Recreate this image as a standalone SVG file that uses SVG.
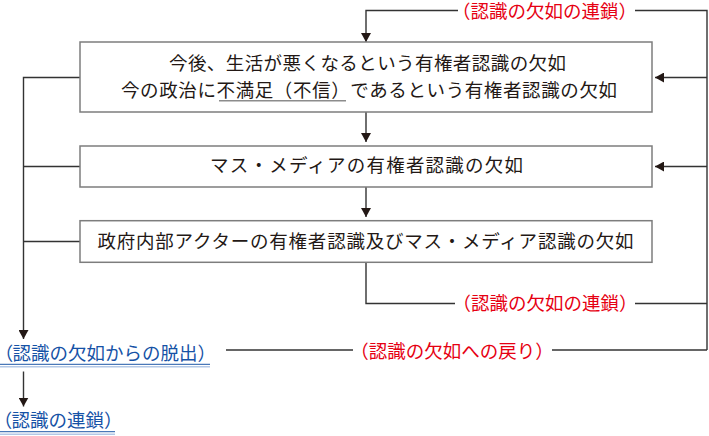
<svg xmlns="http://www.w3.org/2000/svg" width="709" height="436" viewBox="0 0 709 436">
<defs>
<style>
.box{fill:#fff;stroke:#7d7d7d;stroke-width:1.5}
.ln{fill:none;stroke:#333;stroke-width:1.4}
.t{font-family:"Liberation Sans","Noto Sans CJK JP",sans-serif;font-size:18.5px;fill:#231815}
.red{font-family:"Liberation Sans","Noto Sans CJK JP",sans-serif;font-size:18.5px;fill:#e60012}
.blue{font-family:"Liberation Sans","Noto Sans CJK JP",sans-serif;font-size:18.5px;fill:#1652a6}
.p{font-feature-settings:"palt"}
.ul1{stroke:#4a78b8;stroke-width:1.2}
.ul2{stroke:#b3c8e6;stroke-width:1.6}
</style>
<marker id="ah" viewBox="0 0 9 10" refX="9" refY="5" markerWidth="9" markerHeight="10" markerUnits="userSpaceOnUse" orient="auto">
<path d="M0,0 L9,5 L0,10 z" fill="#231815"/>
</marker>
</defs>
<rect width="709" height="436" fill="#fff"/>
<g id="connectors">
<path class="ln" d="M458,10.5 H366 V42" marker-end="url(#ah)"/>
<path class="ln" d="M635,10.5 H707 V350"/>
<path class="ln" d="M707,77.5 H655" marker-end="url(#ah)"/>
<path class="ln" d="M707,166.5 H655" marker-end="url(#ah)"/>
<path class="ln" d="M366,112 V142" marker-end="url(#ah)"/>
<path class="ln" d="M366,187 V217" marker-end="url(#ah)"/>
<path class="ln" d="M366,262 V303.5 H455"/>
<path class="ln" d="M635,303.5 H707"/>
<path class="ln" d="M226,350 H353"/>
<path class="ln" d="M552,350 H707"/>
<path class="ln" d="M80,77.5 H23.5 V339" marker-end="url(#ah)"/>
<path class="ln" d="M23.5,166.5 H80"/>
<path class="ln" d="M23.5,241.5 H80"/>
<path class="ln" d="M23.5,371.5 V406.5" marker-end="url(#ah)"/>
</g>
<g id="box1">
<rect class="box" x="80" y="42" width="572" height="70"/>
<text class="t" x="169" y="69.5" textLength="397">今後、生活が悪くなるという有権者認識の欠如</text>
<text class="t" x="121" y="97" textLength="496">今の政治に不満足（不信）であるという有権者認識の欠如</text>
<line x1="219" y1="100.8" x2="346" y2="100.8" stroke="#8c8c8c" stroke-width="1.6"/>
</g>
<g id="box2">
<rect class="box" x="80" y="146" width="572" height="41"/>
<text class="t" x="210" y="172" textLength="313">マス・メディアの有権者認識の欠如</text>
</g>
<g id="box3">
<rect class="box" x="80" y="220.7" width="572" height="41.6"/>
<text class="t" x="97.5" y="247.7" textLength="536">政府内部アクターの有権者認識及びマス・メディア認識の欠如</text>
</g>
<g id="edge-labels">
<text class="red" x="544.5" y="18" text-anchor="middle">（認識の欠如の連鎖）</text>
<text class="red" x="545" y="310" text-anchor="middle">（認識の欠如の連鎖）</text>
<text class="red" x="452" y="358" text-anchor="middle">（認識の欠如への戻り）</text>
</g>
<g id="escape">
<text class="blue" x="216" y="360.3" text-anchor="end"><tspan class="p">（</tspan>認識の欠如からの脱出）</text>
<line class="ul1" x1="0" y1="364.3" x2="210" y2="364.3"/>
<line class="ul2" x1="0" y1="366.8" x2="210" y2="366.8"/>
</g>
<g id="chain">
<text class="blue" x="122.5" y="427" text-anchor="end"><tspan class="p">（</tspan>認識の連鎖）</text>
<line class="ul1" x1="0" y1="431.7" x2="115" y2="431.7"/>
<line class="ul2" x1="0" y1="434.2" x2="115" y2="434.2"/>
</g>
</svg>
